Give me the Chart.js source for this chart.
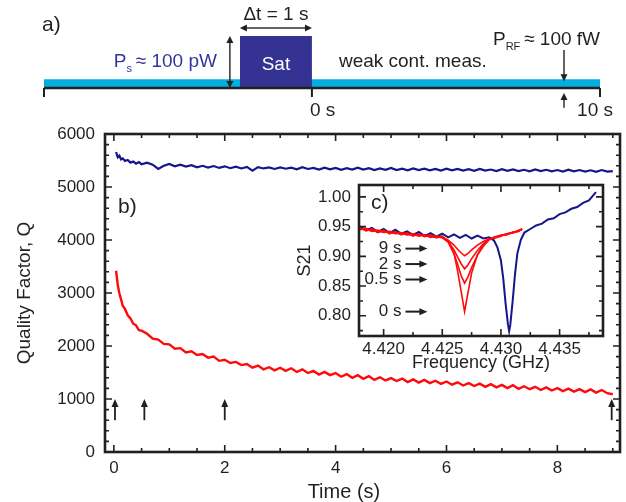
<!DOCTYPE html>
<html>
<head>
<meta charset="utf-8">
<script src="https://cdn.jsdelivr.net/npm/chart.js@4.4.1/dist/chart.umd.min.js"></script>
<style>
  html, body { margin: 0; background: #fff; }
  #wrap { position: relative; width: 626px; height: 502px; overflow: hidden; }
  canvas { position: absolute; }
  #cA { left: 0; top: 0; }
  #cB { left: 0; top: 120px; }
  #cC { left: 290px; top: 175px; }
</style>
</head>
<body>
<div id="wrap">
  <canvas id="cA" width="626" height="125"></canvas>
  <canvas id="cB" width="626" height="382"></canvas>
  <canvas id="cC" width="322" height="205"></canvas>
</div>
<script>
// ---- data ---------------------------------------------------------------

// a) measurement sequence (schematic, seconds; pulse drawn wider than 1 s like the sketch)
const timelineSpan = [-9.3, 10];
const pulseSpan = [-2.5, 0];
const probeLevel = 0.17;
const pulseLevel = 1;
const probeMarkT = 8.75;
const timelineTicks = [0, 10];
const timelineTickLabels = ['0 s', '10 s'];

// b) quality factor vs time
const times = [0.04, 0.07, 0.10, 0.13, 0.16, 0.20, 0.25, 0.30, 0.35, 0.40, 0.45, 0.50,
  0.6, 0.7, 0.8, 0.9, 1.0, 1.1, 1.2, 1.3, 1.4, 1.5, 1.6, 1.7, 1.8, 1.9,
  2.0, 2.1, 2.2, 2.3, 2.4, 2.5, 2.6, 2.7, 2.8, 2.9,
  3.0, 3.1, 3.2, 3.3, 3.4, 3.5, 3.6, 3.7, 3.8, 3.9,
  4.0, 4.1, 4.2, 4.3, 4.4, 4.5, 4.6, 4.7, 4.8, 4.9,
  5.0, 5.1, 5.2, 5.3, 5.4, 5.5, 5.6, 5.7, 5.8, 5.9,
  6.0, 6.1, 6.2, 6.3, 6.4, 6.5, 6.6, 6.7, 6.8, 6.9,
  7.0, 7.1, 7.2, 7.3, 7.4, 7.5, 7.6, 7.7, 7.8, 7.9,
  8.0, 8.1, 8.2, 8.3, 8.4, 8.5, 8.6, 8.7, 8.8, 8.9, 9.0];
// without saturation pulse (blue)
const qRef = [5660, 5560, 5590, 5520, 5540, 5490, 5510, 5460, 5480, 5440, 5470, 5430,
  5460, 5420, 5340, 5400, 5435, 5390, 5420, 5385, 5410, 5370, 5400, 5365, 5395, 5360,
  5390, 5355, 5385, 5350, 5380, 5310, 5375, 5350, 5370, 5340,
  5370, 5345, 5365, 5335, 5375, 5340, 5360, 5330, 5365, 5335,
  5360, 5325, 5355, 5330, 5365, 5330, 5355, 5320, 5350, 5325,
  5360, 5320, 5345, 5315, 5350, 5320, 5345, 5315, 5340, 5310,
  5345, 5315, 5340, 5310, 5335, 5305, 5340, 5310, 5330, 5300,
  5335, 5305, 5330, 5300, 5325, 5295, 5330, 5300, 5325, 5295,
  5320, 5290, 5325, 5295, 5320, 5290, 5315, 5285, 5320, 5290, 5300];
// after saturation pulse (red)
const qSat = [3420, 3150, 2990, 2880, 2760, 2700, 2580, 2520, 2420, 2390, 2300, 2290,
  2230, 2140, 2120, 2040, 2030, 1950, 1960, 1880, 1900, 1830, 1850, 1780, 1800, 1720,
  1740, 1680, 1700, 1640, 1660, 1590, 1630, 1560, 1600, 1540,
  1590, 1530, 1580, 1510, 1560, 1490, 1530, 1460, 1510, 1450,
  1490, 1420, 1470, 1400, 1450, 1380, 1430, 1360, 1410, 1350,
  1395, 1340, 1385, 1320, 1370, 1310, 1360, 1300, 1345, 1285,
  1330, 1270, 1315, 1255, 1300, 1245, 1290, 1230, 1280, 1220,
  1265, 1205, 1260, 1190, 1240, 1185, 1230, 1170, 1220, 1160,
  1205, 1150, 1195, 1140, 1185, 1130, 1180, 1120, 1170, 1110, 1090];
// times at which the inset spectra were taken
const spectrumTimes = [0.02, 0.55, 2.0, 8.98];
const arrowQ = [600, 1000];

// c) S21 spectra
const freqRef = [4.4179, 4.4185, 4.4190, 4.4195, 4.4200, 4.4205, 4.4210, 4.4215, 4.4220, 4.4225,
  4.4230, 4.4235, 4.4240, 4.4245, 4.4250, 4.4255, 4.4260, 4.4265, 4.4270, 4.4275,
  4.4280, 4.4285, 4.4290, 4.4294, 4.4297, 4.4300, 4.4302, 4.4304, 4.4306, 4.4307,
  4.4308, 4.4310, 4.4312, 4.4314, 4.4317, 4.4320, 4.4325, 4.4330, 4.4335, 4.4340,
  4.4345, 4.4350, 4.4355, 4.4360, 4.4365, 4.4370, 4.4375, 4.4381];
const s21Ref = [0.951, 0.944, 0.948, 0.941, 0.946, 0.939, 0.945, 0.938, 0.942, 0.936,
  0.941, 0.934, 0.939, 0.933, 0.938, 0.932, 0.937, 0.931, 0.936, 0.930,
  0.935, 0.930, 0.932, 0.927, 0.915, 0.893, 0.862, 0.820, 0.785, 0.774,
  0.785, 0.825, 0.870, 0.905, 0.928, 0.940, 0.946, 0.952, 0.955, 0.962,
  0.964, 0.971, 0.974, 0.980, 0.983, 0.990, 0.994, 1.008];
const freqSat = [4.4179, 4.4185, 4.4190, 4.4195, 4.4200, 4.4205, 4.4210, 4.4215, 4.4220, 4.4225,
  4.4230, 4.4235, 4.4240, 4.4245, 4.4250, 4.4255, 4.4260, 4.4263, 4.4266, 4.4269,
  4.4272, 4.4275, 4.4280, 4.4285, 4.4290, 4.4295, 4.4300, 4.4305, 4.4310, 4.4315, 4.4318];
const s21At0 = [0.948, 0.944, 0.945, 0.941, 0.943, 0.939, 0.941, 0.937, 0.939, 0.935,
  0.937, 0.934, 0.935, 0.932, 0.932, 0.926, 0.905, 0.876, 0.842, 0.807,
  0.840, 0.872, 0.903, 0.920, 0.929, 0.932, 0.936, 0.936, 0.941, 0.942, 0.946];
const s21At05 = [0.945, 0.946, 0.942, 0.943, 0.940, 0.941, 0.938, 0.939, 0.936, 0.937,
  0.934, 0.936, 0.932, 0.934, 0.931, 0.924, 0.904, 0.887, 0.868, 0.855,
  0.866, 0.881, 0.902, 0.917, 0.928, 0.931, 0.934, 0.938, 0.939, 0.944, 0.945];
const s21At2 = [0.949, 0.943, 0.946, 0.940, 0.944, 0.938, 0.942, 0.936, 0.940, 0.934,
  0.938, 0.933, 0.936, 0.931, 0.934, 0.925, 0.911, 0.899, 0.888, 0.879,
  0.886, 0.896, 0.910, 0.921, 0.929, 0.933, 0.935, 0.937, 0.940, 0.942, 0.947];
const s21At9 = [0.946, 0.947, 0.943, 0.944, 0.941, 0.942, 0.939, 0.940, 0.937, 0.938,
  0.935, 0.936, 0.933, 0.934, 0.932, 0.927, 0.919, 0.912, 0.906, 0.901,
  0.905, 0.911, 0.919, 0.925, 0.930, 0.932, 0.935, 0.938, 0.940, 0.943, 0.946];
const curveLabels = ['9 s', '2 s', '0.5 s', '0 s'];
const curveLabelS21 = [0.913, 0.887, 0.861, 0.807];
const curveArrowF = [4.42186, 4.42373];

// ---- style ---------------------------------------------------------------
const INK = '#231f20';
const NAVY = '#16168a';
const RED = '#ff0a0a';
const CYAN = '#00aedf';
const PULSE = '#343393';
const FONT = '"Liberation Sans", Arial, sans-serif';

Chart.defaults.font.family = FONT;
Chart.defaults.color = INK;

function xy(xs, ys) { return xs.map((v, i) => ({ x: v, y: ys[i] })); }

// fixed axis box sizes, no extra label padding (keeps plot areas where the figure has them)
function fixBox(w, h) {
  return s => {
    if (w != null) s.width = w;
    if (h != null) s.height = h;
    s.paddingTop = 0; s.paddingBottom = 0; s.paddingLeft = 0; s.paddingRight = 0;
  };
}

function arrow(ctx, x0, y0, x1, y1, head) {
  head = head || 7;
  const a = Math.atan2(y1 - y0, x1 - x0);
  ctx.beginPath();
  ctx.moveTo(x0, y0);
  ctx.lineTo(x1 - Math.cos(a) * head * 0.8, y1 - Math.sin(a) * head * 0.8);
  ctx.stroke();
  ctx.beginPath();
  ctx.moveTo(x1, y1);
  ctx.lineTo(x1 - head * Math.cos(a) + 3.5 * Math.sin(a), y1 - head * Math.sin(a) - 3.5 * Math.cos(a));
  ctx.lineTo(x1 - head * Math.cos(a) - 3.5 * Math.sin(a), y1 - head * Math.sin(a) + 3.5 * Math.cos(a));
  ctx.closePath();
  ctx.fill();
}
function arrow2(ctx, x0, y0, x1, y1) {
  arrow(ctx, (x0 + x1) / 2, (y0 + y1) / 2, x1, y1);
  arrow(ctx, (x0 + x1) / 2, (y0 + y1) / 2, x0, y0);
}
// text with subscripts: parts = [[text, isSub], ...]
function richText(ctx, parts, x, y, size, alignRight) {
  const fontOf = (p) => (p[1] ? Math.round(size * 0.6) : size) + 'px ' + FONT;
  let w = 0;
  parts.forEach(p => { ctx.font = fontOf(p); w += ctx.measureText(p[0]).width; });
  let cx = alignRight ? x - w : x;
  ctx.textAlign = 'left';
  ctx.textBaseline = 'middle';
  parts.forEach(p => {
    ctx.font = fontOf(p);
    ctx.fillText(p[0], cx, p[1] ? y + 7 : y);
    cx += ctx.measureText(p[0]).width;
  });
}

// box frame with inward major/minor ticks on all 4 sides
const frameTicks = {
  id: 'frameTicks',
  afterDatasetsDraw(chart, args, o) {
    const { ctx, chartArea: a, scales: { x, y } } = chart;
    ctx.save();
    ctx.strokeStyle = INK;
    ctx.lineWidth = 1.6;
    const steps = (min, max, step) => {
      const out = [];
      for (let i = Math.ceil(min / step - 1e-9); i * step <= max + 1e-9; i++) out.push(i * step);
      return out;
    };
    const isMajor = (v, major) => Math.abs(v / major - Math.round(v / major)) < 1e-6;
    steps(x.min, x.max, o.xMinor).forEach(v => {
      const p = x.getPixelForValue(v);
      const len = isMajor(v, o.xMajor) ? 7 : 4;
      ctx.beginPath();
      ctx.moveTo(p, a.bottom); ctx.lineTo(p, a.bottom - len);
      ctx.moveTo(p, a.top); ctx.lineTo(p, a.top + len);
      ctx.stroke();
    });
    steps(y.min, y.max, o.yMinor).forEach(v => {
      const p = y.getPixelForValue(v);
      const len = isMajor(v, o.yMajor) ? 7 : 4;
      ctx.beginPath();
      ctx.moveTo(a.left, p); ctx.lineTo(a.left + len, p);
      ctx.moveTo(a.right, p); ctx.lineTo(a.right - len, p);
      ctx.stroke();
    });
    ctx.lineWidth = 2.6;
    ctx.strokeRect(a.left, a.top, a.right - a.left, a.bottom - a.top);
    ctx.restore();
  }
};

const hiddenAxis = { display: false };

// ---- a) timeline sketch ----------------------------------------------------
const sketchA = {
  id: 'sketchA',
  afterDatasetsDraw(chart) {
    const { ctx, scales: { x, y } } = chart;
    const px = v => x.getPixelForValue(v);
    const py = v => y.getPixelForValue(v);
    const y0 = py(0);
    const p0 = px(pulseSpan[0]), p1 = px(pulseSpan[1]), pm = (p0 + p1) / 2;
    ctx.save();
    ctx.strokeStyle = INK; ctx.fillStyle = INK;
    ctx.lineWidth = 2.6;
    ctx.beginPath();
    ctx.moveTo(px(timelineSpan[0]), y0); ctx.lineTo(px(timelineSpan[1]), y0);
    ctx.stroke();
    ctx.lineWidth = 2;
    [timelineSpan[0]].concat(timelineTicks).forEach(t => {
      ctx.beginPath(); ctx.moveTo(px(t), y0); ctx.lineTo(px(t), y0 + 9); ctx.stroke();
    });
    ctx.font = '19px ' + FONT;
    ctx.textBaseline = 'middle';
    ctx.textAlign = 'left';
    ctx.fillText(timelineTickLabels[0], px(timelineTicks[0]) - 2, y0 + 23);
    ctx.textAlign = 'right';
    ctx.fillText(timelineTickLabels[1], px(timelineTicks[1]) + 13, y0 + 23);

    ctx.lineWidth = 1.4;
    arrow2(ctx, p0 - 10, py(pulseLevel), p0 - 10, y0);
    arrow2(ctx, p0, py(pulseLevel) - 8, p1, py(pulseLevel) - 8);
    arrow(ctx, px(probeMarkT), py(0.73), px(probeMarkT), py(probeLevel) + 2);
    arrow(ctx, px(probeMarkT), py(-0.38), px(probeMarkT), y0 + 5);

    ctx.textAlign = 'center';
    ctx.font = '19px ' + FONT;
    ctx.fillText('\u0394t = 1 s', pm, py(pulseLevel) - 21);
    ctx.fillStyle = '#ffffff';
    ctx.fillText('Sat', pm, py(0.45));
    ctx.fillStyle = INK;
    ctx.textAlign = 'left';
    ctx.fillText('weak cont. meas.', p1 + 27, py(0.5));
    ctx.font = '21px ' + FONT;
    ctx.fillText('a)', 42, 25);
    ctx.fillStyle = '#35359a';
    richText(ctx, [['P', 0], ['s', 1], ['\u2009\u2248 100 pW', 0]], p0 - 23, py(0.5), 19, true);
    ctx.fillStyle = INK;
    richText(ctx, [['P', 0], ['RF', 1], ['\u2009\u2248 100 fW', 0]], px(probeMarkT) - 71, py(0.92), 19, false);
    ctx.restore();
  }
};

new Chart(document.getElementById('cA'), {
  type: 'line',
  data: {
    datasets: [
      { data: [{ x: pulseSpan[0], y: 0 }, { x: pulseSpan[0], y: pulseLevel }, { x: pulseSpan[1], y: pulseLevel }, { x: pulseSpan[1], y: 0 }],
        fill: 'origin', backgroundColor: PULSE, borderWidth: 0, pointRadius: 0 },
      { data: [{ x: timelineSpan[0], y: probeLevel }, { x: timelineSpan[1], y: probeLevel }],
        fill: 'origin', backgroundColor: CYAN, borderWidth: 0, pointRadius: 0 }
    ]
  },
  options: {
    responsive: false, animation: false, devicePixelRatio: 1,
    layout: { padding: { left: 44, right: 26, top: 36, bottom: 37 } },
    plugins: { legend: { display: false }, tooltip: { enabled: false } },
    scales: {
      x: Object.assign({ type: 'linear', min: timelineSpan[0], max: timelineSpan[1] }, hiddenAxis),
      y: Object.assign({ min: 0, max: pulseLevel }, hiddenAxis)
    }
  },
  plugins: [sketchA]
});

// ---- b) Q vs time --------------------------------------------------------
const notesB = {
  id: 'notesB',
  afterDatasetsDraw(chart) {
    const { ctx, chartArea: a, scales: { x, y } } = chart;
    ctx.save();
    ctx.strokeStyle = INK; ctx.fillStyle = INK; ctx.lineWidth = 1.8;
    spectrumTimes.forEach(t => {
      arrow(ctx, x.getPixelForValue(t), y.getPixelForValue(arrowQ[0]), x.getPixelForValue(t), y.getPixelForValue(arrowQ[1]), 8);
    });
    ctx.font = '21px ' + FONT;
    ctx.textAlign = 'left'; ctx.textBaseline = 'middle';
    ctx.fillText('b)', a.left + 13, a.top + 73);
    ctx.font = '20px ' + FONT;
    ctx.textAlign = 'center';
    ctx.fillText('Time (s)', x.getPixelForValue(4.15), a.bottom + 40);
    ctx.restore();
  }
};

new Chart(document.getElementById('cB'), {
  type: 'line',
  data: {
    datasets: [
      { data: xy(times, qRef), borderColor: NAVY, borderWidth: 2.2, pointRadius: 0, tension: 0 },
      { data: xy(times, qSat), borderColor: RED, borderWidth: 2.4, pointRadius: 0, tension: 0 }
    ]
  },
  options: {
    responsive: false, animation: false, devicePixelRatio: 1,
    layout: { padding: { left: 0, right: 6, top: 14, bottom: 0 } },
    plugins: {
      legend: { display: false }, tooltip: { enabled: false },
      frameTicks: { xMinor: 0.5, xMajor: 2, yMinor: 200, yMajor: 1000 }
    },
    scales: {
      x: {
        type: 'linear', min: -0.16, max: 9.13,
        afterFit: fixBox(null, 50),
        grid: { display: false, drawTicks: false }, border: { display: false },
        ticks: { stepSize: 2, includeBounds: false, padding: 6, maxRotation: 0, font: { size: 17 }, color: INK }
      },
      y: {
        min: 0, max: 6000,
        afterFit: fixBox(105, null),
        grid: { display: false, drawTicks: false }, border: { display: false },
        ticks: { stepSize: 1000, padding: 10, font: { size: 17 }, color: INK, callback: v => String(v) },
        title: { display: true, text: 'Quality Factor, Q', font: { size: 19 }, color: INK, padding: { top: 13, bottom: 0 } }
      }
    }
  },
  plugins: [frameTicks, notesB]
});

// ---- c) inset spectra ----------------------------------------------------
const notesC = {
  id: 'notesC',
  afterDatasetsDraw(chart) {
    const { ctx, chartArea: a, scales: { x, y } } = chart;
    ctx.save();
    ctx.strokeStyle = INK; ctx.fillStyle = INK; ctx.lineWidth = 2;
    ctx.font = '17px ' + FONT;
    ctx.textBaseline = 'middle';
    curveLabels.forEach((lab, i) => {
      const py = y.getPixelForValue(curveLabelS21[i]);
      ctx.textAlign = 'right';
      ctx.fillText(lab, x.getPixelForValue(curveArrowF[0]) - 4, py);
      arrow(ctx, x.getPixelForValue(curveArrowF[0]), py, x.getPixelForValue(curveArrowF[1]), py, 8);
    });
    ctx.font = '21px ' + FONT;
    ctx.textAlign = 'left';
    ctx.fillText('c)', a.left + 12, a.top + 18);
    ctx.restore();
  }
};

new Chart(document.getElementById('cC'), {
  type: 'line',
  data: {
    datasets: [
      { data: xy(freqSat, s21At0), borderColor: RED, borderWidth: 1.6, pointRadius: 0, tension: 0 },
      { data: xy(freqSat, s21At05), borderColor: RED, borderWidth: 1.6, pointRadius: 0, tension: 0 },
      { data: xy(freqSat, s21At2), borderColor: RED, borderWidth: 1.6, pointRadius: 0, tension: 0 },
      { data: xy(freqSat, s21At9), borderColor: RED, borderWidth: 1.6, pointRadius: 0, tension: 0 },
      { data: xy(freqRef, s21Ref), borderColor: NAVY, borderWidth: 2, pointRadius: 0, tension: 0 }
    ]
  },
  options: {
    responsive: false, animation: false, devicePixelRatio: 1,
    layout: { padding: { left: 0, right: 9, top: 10, bottom: 0 } },
    plugins: {
      legend: { display: false }, tooltip: { enabled: false },
      frameTicks: { xMinor: 0.0025, xMajor: 0.005, yMinor: 0.025, yMajor: 0.05 }
    },
    scales: {
      x: {
        type: 'linear', min: 4.4179, max: 4.4387,
        afterFit: fixBox(null, 44),
        grid: { display: false, drawTicks: false }, border: { display: false },
        ticks: { stepSize: 0.005, includeBounds: false, padding: 3, maxRotation: 0, font: { size: 17 }, color: INK,
                 callback: v => v.toFixed(3) },
        title: { display: true, text: 'Frequency (GHz)', font: { size: 18 }, color: INK, padding: { top: 0, bottom: 6 } }
      },
      y: {
        min: 0.766, max: 1.02,
        afterFit: fixBox(69, null),
        grid: { display: false, drawTicks: false }, border: { display: false },
        ticks: { stepSize: 0.05, includeBounds: false, padding: 8, font: { size: 17 }, color: INK, callback: v => v.toFixed(2) },
        title: { display: true, text: 'S21', font: { size: 18 }, color: INK, padding: { top: 4, bottom: 0 } }
      }
    }
  },
  plugins: [frameTicks, notesC]
});
</script>
</body>
</html>
